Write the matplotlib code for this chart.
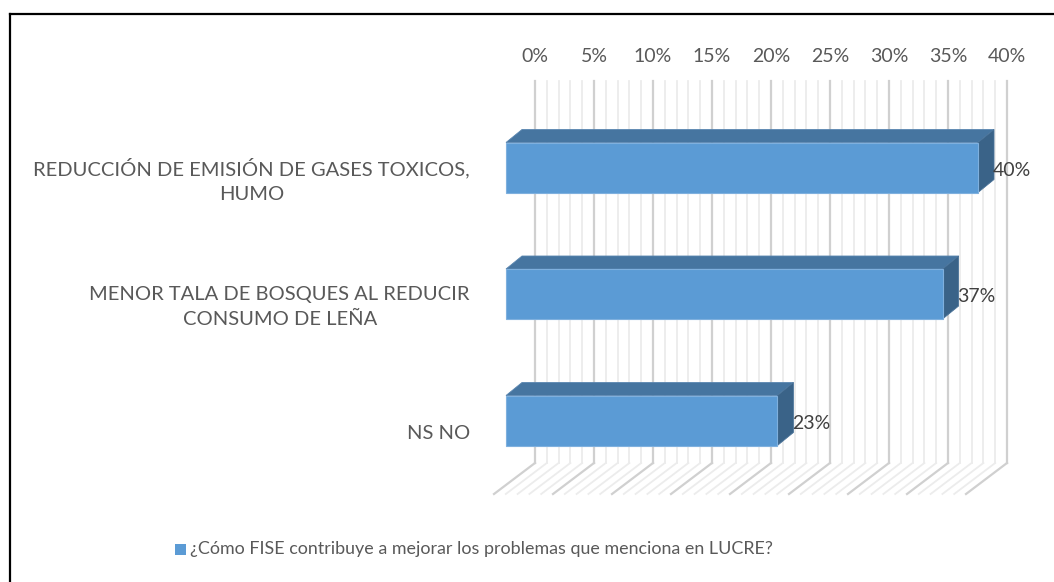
import matplotlib.pyplot as plt
from matplotlib.patches import Polygon, Rectangle
from matplotlib.lines import Line2D

plt.rcParams['font.family'] = ['Lato', 'DejaVu Sans']

categories = ["REDUCCIÓN DE EMISIÓN DE GASES TOXICOS,\nHUMO",
              "MENOR TALA DE BOSQUES AL REDUCIR\nCONSUMO DE LEÑA",
              "NS NO"]
values = [40, 37, 23]
ticks = list(range(0, 41, 5))
tick_labels = [f"{t}%" for t in ticks]
minor_ticks = list(range(0, 41))
series_name = "¿Cómo FISE contribuye a mejorar los problemas que menciona en LUCRE?"

W, H = 1054, 582
PX = 11.8       # pixels per percent
X0 = 506        # pixel x of 0% on the bar front
ROW = 126.5     # pixels between bars
Y0 = 167.5      # pixel y (from top) of first bar centre

front = '#5B9BD5'
top = '#4675A0'
side = '#3A6388'

fig = plt.figure(figsize=(W / 100, H / 100), dpi=100)
ax = fig.add_axes([0, 0, 1, 1])
ax.set_xlim(-X0 / PX, (W - X0) / PX)
ax.set_ylim((H - Y0) / ROW, -Y0 / ROW)
ax.axis('off')

def ux(px):
    return px / PX

def uy(px):
    return px / ROW

# back wall + floor gridlines
wall_dx = ux(29)
wall_top = uy(81 - Y0)
wall_bot = uy(463 - Y0)
floor_dx = ux(-41)
floor_dy = uy(31)
for t in minor_ticks:
    major = t % 5 == 0
    c = '#d0d0d0' if major else '#ececec'
    lw = 1.6 if major else 1.3
    xw = t + wall_dx
    ax.plot([xw, xw], [wall_top, wall_bot], color=c, lw=lw, zorder=1 + major)
    ax.plot([xw, xw + floor_dx], [wall_bot, wall_bot + floor_dy],
            color=c, lw=lw, zorder=1 + major)

for t, lab in zip(ticks, tick_labels):
    ax.text(t + wall_dx, uy(56 - Y0), lab, ha='center', va='center',
            fontsize=14, color='#595959')

# 3D bars
h = uy(25)
bdx = ux(16)
bdy = uy(13)
for i, (cat, v) in enumerate(zip(categories, values)):
    ax.add_patch(Polygon([(0, i - h), (v, i - h), (v + bdx, i - h - bdy),
                          (bdx, i - h - bdy)], closed=True, fc=top,
                         ec='#5a86b0', lw=0.6, zorder=5))
    ax.add_patch(Polygon([(v, i - h), (v, i + h), (v + bdx, i + h - bdy),
                          (v + bdx, i - h - bdy)], closed=True, fc=side,
                         ec='#4a7399', lw=0.6, zorder=5))
    ax.add_patch(Rectangle((0, i - h), v, 2 * h, fc=front, ec='#7fb0de',
                           lw=0.8, zorder=6))
    ax.text(v + bdx - ux(1.5), i + uy(3), f"{v}%", ha='left', va='center',
            fontsize=14, color='#404040', zorder=7)
    ax.text(ux(470 - X0), i + uy(13), cat, ha='right', va='center',
            multialignment='center', fontsize=14.5, color='#595959',
            linespacing=1.55)

# legend
ax.add_patch(Rectangle((ux(175 - X0), uy(555 - Y0)), ux(11), -uy(11),
                       fc=front, ec='none'))
ax.text(ux(190 - X0), uy(549 - Y0), series_name, ha='left', va='center',
        fontsize=12.9, color='#595959')

# chart border (left and top edges visible)
fig.add_artist(Line2D([9.5 / W, 9.5 / W], [0, 1 - 13.5 / H], color='black',
                      lw=1.6, transform=fig.transFigure))
fig.add_artist(Line2D([9.5 / W, 1], [1 - 13.5 / H, 1 - 13.5 / H],
                      color='black', lw=1.6, transform=fig.transFigure))

fig.savefig('out.png', dpi=100)
